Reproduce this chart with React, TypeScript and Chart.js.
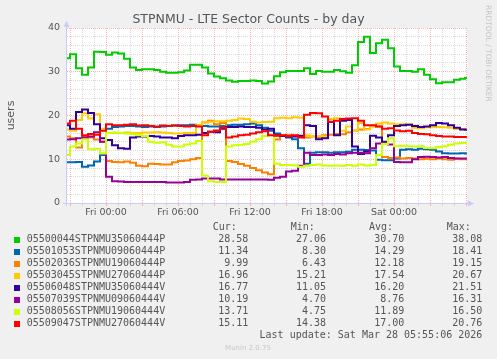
import React, { useEffect, useRef } from 'react';
import { Chart, registerables } from 'chart.js';

Chart.register(...registerables);

const TITLE = 'STPNMU - LTE Sector Counts - by day';
const Y_LABEL = 'users';
const WATERMARK = 'RRDTOOL / TOBI OETIKER';
const LAST_UPDATE = 'Last update: Sat Mar 28 05:55:06 2026';
const FOOTER = 'Munin 2.0.75';

// hours relative to Fri 00:00
const X_MIN = -3.25;
const X_MAX = 30.0833;
const X_TICK_LABELS: Record<number, string> = {
  0: 'Fri 00:00',
  6: 'Fri 06:00',
  12: 'Fri 12:00',
  18: 'Fri 18:00',
  24: 'Sat 00:00',
};
const X_TICKS = [-3, -2, -1, 0, 1, 2, 3, 4, 5, 6, 7, 8, 9, 10, 11, 12, 13, 14, 15, 16, 17, 18, 19, 20, 21, 22, 23, 24, 25, 26, 27, 28, 29, 30];
const Y_TICKS = [0, 2, 4, 6, 8, 10, 12, 14, 16, 18, 20, 22, 24, 26, 28, 30, 32, 34, 36, 38, 40];
const Y_LABELED = [0, 10, 20, 30, 40];

const TIMES = [-3.25, -2.75, -2.25, -1.75, -1.25, -0.75, -0.25, 0.25, 0.75, 1.25, 1.75, 2.25, 2.75, 3.25, 3.75, 4.25, 4.75, 5.25, 5.75, 6.25, 6.75, 7.25, 7.75, 8.25, 8.75, 9.25, 9.75, 10.25, 10.75, 11.25, 11.75, 12.25, 12.75, 13.25, 13.75, 14.25, 14.75, 15.25, 15.75, 16.25, 16.75, 17.25, 17.75, 18.25, 18.75, 19.25, 19.75, 20.25, 20.75, 21.25, 21.75, 22.25, 22.75, 23.25, 23.75, 24.25, 24.75, 25.25, 25.75, 26.25, 26.75, 27.25, 27.75, 28.25, 28.75, 29.25, 29.75, 30.08];

const NAMES = [
  '05500044STPNMU35060444P',
  '05501053STPNMU09060444P',
  '05502036STPNMU19060444P',
  '05503045STPNMU27060444P',
  '05506048STPNMU35060444V',
  '05507039STPNMU09060444V',
  '05508056STPNMU19060444V',
  '05509047STPNMU27060444V',
];
const COLORS = ['#00CC00', '#0066B3', '#FF8000', '#FFCC00', '#330099', '#990099', '#CCFF00', '#FF0000'];

const S_GREEN = [33.1, 34.0, 30.8, 29.3, 31.0, 34.6, 34.5, 33.9, 34.4, 34.2, 33.0, 31.0, 30.4, 30.6, 30.6, 30.4, 30.0, 29.8, 29.8, 29.9, 30.3, 31.6, 31.6, 31.0, 29.6, 28.9, 28.5, 28.0, 27.7, 27.9, 27.9, 28.0, 27.9, 27.3, 27.8, 29.0, 29.9, 30.2, 30.2, 30.2, 30.8, 29.5, 30.2, 30.0, 30.0, 30.4, 30.1, 29.8, 31.5, 36.8, 38.0, 34.3, 36.5, 37.3, 35.4, 31.2, 30.2, 30.2, 30.0, 30.6, 29.3, 28.3, 27.4, 27.6, 27.6, 28.2, 28.4, 28.58];
const S_BLUE = [9.3, 9.3, 9.4, 8.3, 8.6, 9.5, 11.0, 17.0, 17.4, 17.5, 17.6, 17.6, 17.5, 17.4, 17.5, 17.4, 17.5, 17.6, 17.7, 17.8, 17.8, 17.9, 17.8, 17.6, 17.5, 17.5, 17.6, 17.8, 17.9, 17.9, 18.0, 18.2, 17.8, 17.2, 16.5, 15.9, 15.4, 15.0, 14.6, 12.5, 9.0, 11.5, 11.6, 11.6, 11.5, 11.6, 11.6, 11.7, 12.2, 12.2, 12.1, 12.0, 9.9, 9.8, 9.8, 10.2, 12.2, 12.3, 12.2, 12.4, 12.3, 12.2, 11.8, 11.4, 11.3, 11.3, 11.4, 11.34];
const S_ORANGE = [15.2, 14.8, 12.7, 15.3, 15.0, 14.5, 14.0, 9.6, 9.4, 9.3, 9.5, 9.2, 8.5, 8.4, 9.0, 8.9, 8.8, 8.8, 9.3, 9.6, 9.7, 10.0, 10.3, 18.4, 18.8, 18.0, 18.3, 9.6, 9.4, 8.9, 8.5, 8.0, 7.5, 7.0, 6.6, 14.5, 15.5, 15.6, 15.4, 15.2, 15.0, 15.2, 15.0, 15.5, 15.6, 15.8, 15.7, 16.2, 16.6, 16.8, 16.9, 17.6, 17.5, 10.5, 10.3, 10.4, 10.2, 10.3, 10.2, 10.0, 10.1, 10.0, 10.2, 10.0, 9.9, 10.1, 10.0, 9.99];
const S_YELLOW = [16.8, 16.5, 19.0, 20.5, 19.3, 20.3, 17.0, 16.0, 16.0, 16.0, 16.1, 16.0, 16.0, 16.1, 16.1, 16.2, 16.1, 16.0, 15.9, 15.9, 16.0, 16.0, 17.8, 18.5, 18.6, 18.7, 18.7, 18.8, 19.0, 19.3, 19.2, 18.6, 18.4, 18.5, 18.6, 19.4, 19.5, 19.4, 19.6, 19.5, 15.5, 15.2, 15.3, 15.2, 19.2, 19.4, 16.5, 17.5, 16.5, 18.3, 16.8, 17.5, 18.2, 18.4, 18.2, 18.0, 18.0, 18.0, 17.2, 17.1, 17.3, 17.3, 17.4, 17.3, 17.2, 16.9, 16.9, 16.96];
const S_INDIGO = [17.8, 17.0, 20.8, 21.4, 20.6, 18.0, 14.8, 14.4, 13.2, 12.5, 12.4, 15.0, 15.2, 15.2, 15.3, 15.2, 15.0, 15.0, 14.8, 15.3, 15.5, 15.5, 15.6, 16.0, 16.3, 16.2, 17.0, 17.4, 17.4, 17.5, 17.4, 17.4, 17.2, 16.8, 17.0, 15.5, 15.3, 15.2, 15.2, 15.4, 17.8, 17.6, 14.6, 14.8, 18.5, 15.5, 18.8, 19.0, 12.9, 11.2, 11.8, 15.4, 15.0, 14.0, 15.5, 17.6, 17.8, 17.9, 17.6, 17.4, 17.5, 17.8, 18.3, 18.2, 17.8, 17.2, 16.8, 16.77];
const S_PURPLE = [14.5, 14.6, 14.8, 15.0, 15.2, 16.2, 14.0, 6.0, 5.0, 4.9, 4.8, 4.8, 4.8, 4.8, 4.8, 4.8, 4.8, 4.7, 4.7, 4.7, 4.8, 5.3, 5.4, 5.6, 5.6, 5.6, 5.4, 5.4, 5.4, 5.4, 5.4, 5.4, 5.4, 5.4, 5.3, 5.8, 6.0, 7.2, 7.4, 8.5, 11.5, 11.0, 11.0, 11.1, 11.0, 11.2, 11.1, 11.4, 11.5, 11.5, 11.4, 12.5, 13.6, 13.6, 13.4, 9.4, 9.3, 9.3, 10.0, 10.5, 10.6, 10.5, 10.4, 10.5, 10.3, 10.2, 10.2, 10.19];
const S_LIME = [11.0, 12.9, 13.6, 14.5, 12.3, 12.4, 11.3, 16.0, 16.1, 16.0, 15.9, 15.8, 15.5, 15.3, 14.0, 13.8, 13.9, 13.3, 12.9, 12.9, 13.4, 13.6, 14.2, 6.3, 5.0, 4.8, 4.8, 12.9, 13.2, 13.3, 13.5, 14.0, 14.6, 15.3, 15.5, 9.0, 8.7, 8.7, 8.6, 8.3, 8.5, 8.7, 8.8, 8.6, 8.5, 8.6, 8.5, 8.7, 8.5, 8.8, 8.6, 8.7, 11.0, 13.5, 14.8, 13.0, 13.1, 13.0, 12.9, 13.0, 12.6, 12.5, 12.8, 13.0, 13.3, 13.6, 13.7, 13.71];
const S_RED = [18.2, 18.8, 17.0, 15.5, 15.8, 15.6, 16.5, 18.0, 17.8, 17.8, 17.9, 18.0, 17.7, 17.8, 17.6, 17.5, 17.7, 17.6, 17.7, 17.6, 17.5, 17.6, 17.5, 15.5, 16.3, 16.6, 17.2, 15.0, 15.2, 15.5, 15.6, 15.9, 16.2, 16.4, 15.5, 15.4, 15.5, 15.3, 15.5, 15.0, 20.2, 20.6, 20.5, 19.8, 18.6, 18.8, 19.2, 19.3, 19.4, 18.8, 17.8, 17.8, 17.5, 17.0, 17.1, 16.6, 16.4, 16.5, 16.0, 15.8, 15.7, 15.5, 15.3, 15.2, 15.2, 15.1, 15.1, 15.11];

const SERIES = [S_GREEN, S_BLUE, S_ORANGE, S_YELLOW, S_INDIGO, S_PURPLE, S_LIME, S_RED];

const CUR = ['28.58', '11.34', '9.99', '16.96', '16.77', '10.19', '13.71', '15.11'];
const MIN = ['27.06', '8.30', '6.43', '15.21', '11.05', '4.70', '4.75', '14.38'];
const AVG = ['30.70', '14.29', '12.18', '17.54', '16.20', '8.76', '11.89', '17.00'];
const MAX = ['38.08', '18.41', '19.15', '20.67', '21.51', '16.31', '16.50', '20.76'];
const COL_HEADERS = ['Cur:', 'Min:', 'Avg:', 'Max:'];

const TEXT = '#555555';
const SANS = '"DejaVu Sans", sans-serif';
const MONO = '"DejaVu Sans Mono", monospace';
const GRID_MAJOR = 'rgba(235, 110, 110, 0.5)';
const GRID_MINOR = 'rgba(175, 175, 175, 0.45)';
const AXIS = '#c8ccf8';

const muninPlugin = {
  id: 'muninDecor',
  beforeDraw(chart: any) {
    const { ctx, chartArea: a } = chart;
    ctx.save();
    ctx.fillStyle = '#f0f0f0';
    ctx.fillRect(0, 0, chart.width, chart.height);
    ctx.fillStyle = '#ffffff';
    ctx.fillRect(a.left, a.top, a.right - a.left, a.bottom - a.top);
    ctx.restore();
  },
  afterDraw(chart: any) {
    const { ctx, chartArea: a } = chart;
    ctx.save();
    // axes with arrows
    ctx.strokeStyle = AXIS;
    ctx.fillStyle = AXIS;
    ctx.lineWidth = 1;
    ctx.beginPath();
    ctx.moveTo(a.left - 0.5, a.bottom + 3);
    ctx.lineTo(a.left - 0.5, a.top - 2);
    ctx.moveTo(a.left - 4, a.bottom + 0.5);
    ctx.lineTo(a.right + 2, a.bottom + 0.5);
    ctx.stroke();
    ctx.beginPath();
    ctx.moveTo(a.left - 3.5, a.top - 1);
    ctx.lineTo(a.left + 2.5, a.top - 1);
    ctx.lineTo(a.left - 0.5, a.top - 7);
    ctx.closePath();
    ctx.fill();
    ctx.beginPath();
    ctx.moveTo(a.right + 1, a.bottom - 2.5);
    ctx.lineTo(a.right + 1, a.bottom + 3.5);
    ctx.lineTo(a.right + 7, a.bottom + 0.5);
    ctx.closePath();
    ctx.fill();

    // title
    ctx.fillStyle = TEXT;
    ctx.font = `12.5px ${SANS}`;
    ctx.textAlign = 'center';
    ctx.textBaseline = 'middle';
    ctx.fillText(TITLE, chart.width / 2, 19.5);

    // y label
    ctx.save();
    ctx.translate(11, (a.top + a.bottom) / 2);
    ctx.rotate(-Math.PI / 2);
    ctx.font = `11px ${SANS}`;
    ctx.fillText(Y_LABEL, 0, 0);
    ctx.restore();

    // watermark
    ctx.save();
    ctx.translate(487.5, 5);
    ctx.rotate(Math.PI / 2);
    ctx.font = `7.5px ${SANS}`;
    ctx.fillStyle = '#c4c4c4';
    ctx.textAlign = 'left';
    ctx.fillText(WATERMARK, 0, 0);
    ctx.restore();

    // legend table
    ctx.font = `10px ${MONO}`;
    ctx.fillStyle = TEXT;
    ctx.textBaseline = 'middle';
    const headerX = [212.7, 290.7, 369, 446.7];
    ctx.textAlign = 'left';
    COL_HEADERS.forEach((h, i) => ctx.fillText(h, headerX[i], 227.5));
    const colRight = [248.3, 326.1, 404.3, 482.3];
    NAMES.forEach((name, i) => {
      const y = 239.5 + 12 * i;
      ctx.fillStyle = COLORS[i];
      ctx.fillRect(14, Math.round(y) - 3, 6, 6);
      ctx.fillStyle = TEXT;
      ctx.textAlign = 'left';
      ctx.fillText(name, 26.7, y);
      ctx.textAlign = 'right';
      [CUR[i], MIN[i], AVG[i], MAX[i]].forEach((v, j) => ctx.fillText(v, colRight[j], y));
    });
    ctx.textAlign = 'right';
    ctx.fillText(LAST_UPDATE, 482.3, 335.7);

    ctx.font = `7px ${SANS}`;
    ctx.fillStyle = '#c8c8c8';
    ctx.textAlign = 'center';
    ctx.fillText(FOOTER, 248, 347.7);
    ctx.restore();
  },
};

export default function App() {
  const ref = useRef<HTMLCanvasElement | null>(null);

  useEffect(() => {
    if (!ref.current) return;
    const datasets = SERIES.map((vals, i) => ({
      label: NAMES[i],
      data: vals.map((v, k) => ({ x: TIMES[k], y: v })),
      borderColor: COLORS[i],
      backgroundColor: COLORS[i],
      borderWidth: 2,
      pointRadius: 0,
      stepped: 'middle' as const,
      fill: false,
      order: SERIES.length - i,
    }));

    const chart = new Chart(ref.current, {
      type: 'line',
      data: { datasets },
      plugins: [muninPlugin],
      options: {
        animation: false,
        responsive: false,
        maintainAspectRatio: false,
        devicePixelRatio: 1,
        layout: { padding: { left: 0, top: 28, right: 30, bottom: 0 } },
        plugins: {
          legend: { display: false },
          tooltip: { enabled: false },
          title: { display: false },
        },
        scales: {
          x: {
            type: 'linear',
            min: X_MIN,
            max: X_MAX,
            afterBuildTicks: (s: any) => {
              s.ticks = X_TICKS.map((v) => ({ value: v }));
            },
            afterFit: (s: any) => {
              s.height = 156;
            },
            ticks: {
              autoSkip: false,
              maxRotation: 0,
              minRotation: 0,
              padding: 1,
              color: TEXT,
              font: { family: SANS, size: 9.5 },
              callback: (v: any) => X_TICK_LABELS[v as number] ?? '',
            },
            grid: {
              color: (c: any) => (c.tick && c.tick.value % 3 === 0 ? GRID_MAJOR : GRID_MINOR),
              tickColor: (c: any) => (c.tick && c.tick.value % 3 === 0 ? GRID_MAJOR : GRID_MINOR),
              lineWidth: 1,
              drawTicks: true,
              tickLength: 3,
            },
            border: { display: false, dash: [1, 1] },
          },
          y: {
            type: 'linear',
            min: 0,
            max: 40,
            afterBuildTicks: (s: any) => {
              s.ticks = Y_TICKS.map((v) => ({ value: v }));
            },
            afterFit: (s: any) => {
              s.width = 67;
            },
            ticks: {
              autoSkip: false,
              padding: 7,
              color: TEXT,
              font: { family: SANS, size: 9.5 },
              callback: (v: any) => (Y_LABELED.includes(v as number) ? String(v) : ''),
            },
            grid: {
              color: (c: any) => (c.tick && c.tick.value % 10 === 0 ? GRID_MAJOR : GRID_MINOR),
              lineWidth: 1,
              drawTicks: false,
            },
            border: { display: false, dash: [1, 1] },
          },
        },
      },
    });
    return () => chart.destroy();
  }, []);

  return (
    <div style={{ position: 'fixed', left: 0, top: 0, width: 497, height: 359, background: '#f0f0f0' }}>
      <canvas ref={ref} width={497} height={359} style={{ display: 'block', width: 497, height: 359 }} />
    </div>
  );
}
